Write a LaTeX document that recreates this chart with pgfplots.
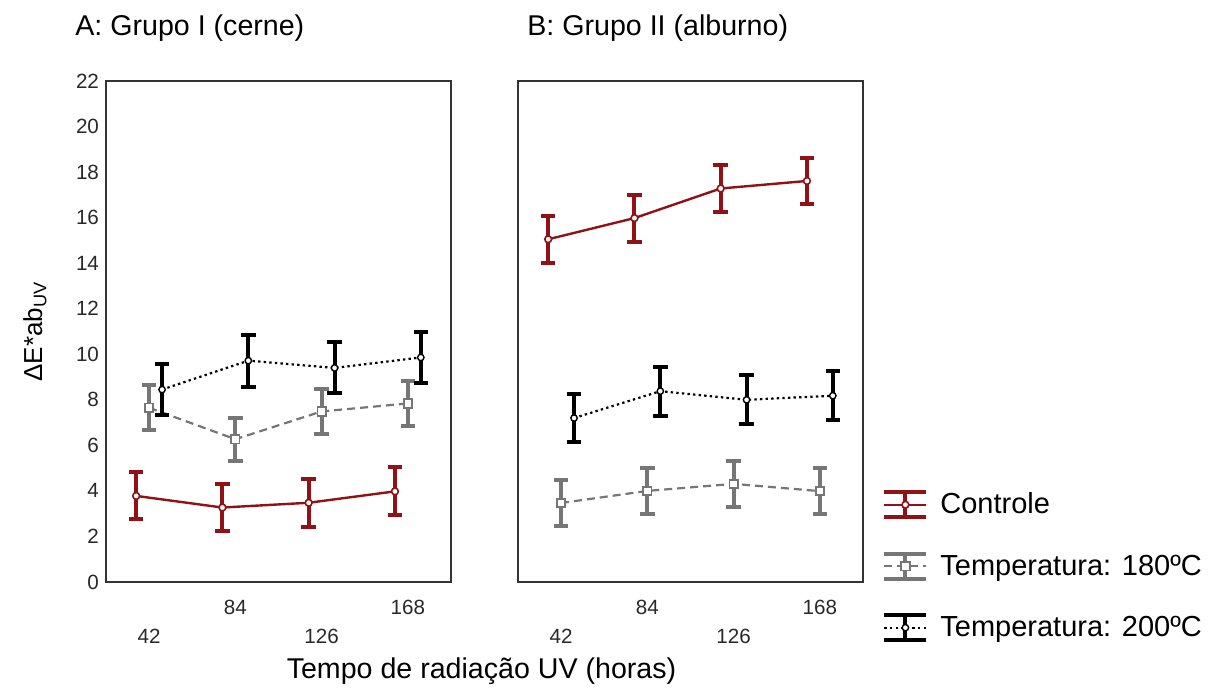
\documentclass[border=0pt]{standalone}
\usepackage{fontspec}
\setmainfont{Liberation Sans}
\usepackage{pgfplots}
\pgfplotsset{compat=1.18}
\usetikzlibrary{calc}
\definecolor{cred}{RGB}{145,18,22}
\definecolor{cgray}{RGB}{118,118,118}
\definecolor{ctext}{RGB}{40,40,40}

\pgfplotsset{
  panel/.style={
    scale only axis, width=172.5pt, height=250.5pt,
    xmin=0.5, xmax=4.5, ymin=0, ymax=22,
    axis line style={line width=1.2pt, black!80},
    major tick length=0pt,
    ytick={0,2,...,22},
    xtick={2,4}, xticklabels={84,168},
    extra x ticks={1,3}, extra x tick labels={42,126},
    xticklabel style={yshift=-5.5pt},
    extra x tick style={xticklabel style={yshift=-14.5pt}},
    tick label style={font=\fontsize{10.3}{12}\selectfont, text=ctext},
    /pgf/number format/assume math mode=true,
    title style={at={(axis description cs:0,1)}, anchor=base west, inner sep=0pt, yshift=17pt, font=\fontsize{14.3}{17}\selectfont, text=black},
    clip=false,
  },
  ctrlS/.style={color=cred, line width=1.2pt, solid, mark=*, mark size=1.7pt, mark options={fill=white, draw=cred, line width=0.8pt, solid}},
  t180S/.style={color=cgray, line width=1.1pt, dash pattern=on 4pt off 2.5pt, mark=square*, mark size=2.1pt, mark options={fill=white, draw=cgray, line width=0.9pt, solid}},
  t200S/.style={color=black, line width=1.1pt, dash pattern=on 1.2pt off 1.6pt, mark=*, mark size=1.6pt, mark options={fill=white, draw=black, line width=0.7pt, solid}},
  errS/.style={error bars/.cd, y dir=both, y explicit, error bar style={line width=2pt, solid}, error mark options={rotate=90, mark size=3.6pt, line width=2pt, solid}},
}

\pgfplotstableread{
x y e
0.85 3.78 1.03
1.85 3.27 1.03
2.85 3.48 1.05
3.85 3.98 1.05
}\ActrlTbl
\pgfplotstableread{
x y e
1 7.65 0.98
2 6.27 0.95
3 7.49 0.99
4 7.84 0.98
}\AtaTbl
\pgfplotstableread{
x y e
1.15 8.45 1.12
2.15 9.72 1.14
3.15 9.40 1.12
4.15 9.86 1.12
}\AtbTbl
\pgfplotstableread{
x y e
0.85 15.05 1.03
1.85 15.98 1.03
2.85 17.28 1.03
3.85 17.61 1.03
}\BctrlTbl
\pgfplotstableread{
x y e
1 3.47 1.01
2 4.00 1.00
3 4.31 1.01
4 3.99 1.00
}\BtaTbl
\pgfplotstableread{
x y e
1.15 7.20 1.07
2.15 8.38 1.07
3.15 8.00 1.08
4.15 8.18 1.08
}\BtbTbl

\begin{document}
\begin{tikzpicture}
\useasboundingbox (-53pt,-54.5pt) rectangle (554.5pt,291pt);
\begin{axis}[panel, name=A,
  title={A: Grupo I (cerne)}, title style={xshift=-15.5pt},
  ylabel={ΔE*ab\textsubscript{UV}},
  ylabel style={at={(axis description cs:-0.206,0.5)}, anchor=center, font=\fontsize{13}{15}\selectfont, text=black},
]
\addplot[ctrlS, errS] table[x=x, y=y, y error=e] {\ActrlTbl};
\addplot[t180S, errS] table[x=x, y=y, y error=e] {\AtaTbl};
\addplot[t200S, errS] table[x=x, y=y, y error=e] {\AtbTbl};
\end{axis}
\begin{axis}[panel, name=B, at={(206pt,0pt)}, ytick=\empty,
  title={B: Grupo II (alburno)}, title style={xshift=4.5pt},
  legend style={draw=none, fill=none, at={(axis description cs:1,0)}, anchor=west, xshift=9.5pt, yshift=8pt, row sep=15pt, column sep=4pt, font=\fontsize{14.5}{16}\selectfont, inner sep=0pt},
  legend cell align=left,
  legend image code/.code={
    \draw[#1, solid, line width=2pt, mark=none] (0pt,6.25pt) -- (21pt,6.25pt) (0pt,-6.25pt) -- (21pt,-6.25pt) (10.5pt,-6.25pt) -- (10.5pt,6.25pt);
    \draw[#1, mark=none] (0pt,0pt) -- (21pt,0pt);
    \draw[#1, only marks] plot coordinates {(10.5pt,0pt)};
  },
]
\addplot[ctrlS, errS] table[x=x, y=y, y error=e] {\BctrlTbl};
\addlegendentry{Controle}
\addplot[t180S, errS] table[x=x, y=y, y error=e] {\BtaTbl};
\addlegendentry{Temperatura: 180ºC}
\addplot[t200S, errS] table[x=x, y=y, y error=e] {\BtbTbl};
\addlegendentry{Temperatura: 200ºC}
\end{axis}
\node[anchor=base, font=\fontsize{14.3}{17}\selectfont, inner sep=0pt] at ($(A.south west)!0.5!(B.south east)+(-1.5pt,-48pt)$) {Tempo de radiação UV (horas)};
\end{tikzpicture}
\end{document}
